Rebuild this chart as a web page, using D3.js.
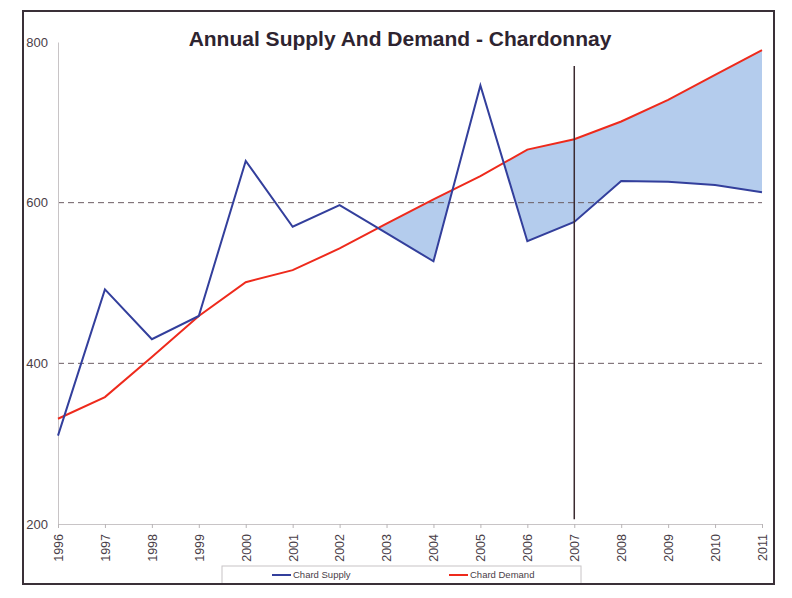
<!DOCTYPE html>
<html>
<head>
<meta charset="utf-8">
<script src="https://cdn.jsdelivr.net/npm/d3@7"></script>
<style>
  body { margin: 0; background: #fff; }
  svg { display: block; }
</style>
</head>
<body>
<div id="chart"></div>
<script>
// data
const years = [1996,1997,1998,1999,2000,2001,2002,2003,2004,2005,2006,2007,2008,2009,2010,2011];
const supply = [310,492,430,459,652,570,597,562,527,746,552,576,627,626,622,613];
const demand = [331,358,408,459,501,516,543,574,604,633,666,679,701,728,759,790];
const yTicks = [200,400,600,800];
const gridVals = [400,600];
const markerYear = 2007;
const markerSpan = [206,770];
const shadeFrom = 2002;
const seriesNames = ['Chard Supply','Chard Demand'];

const W = 792, H = 598;
const margin = {top: 42, right: 30, bottom: 74, left: 58};
const width = 762 - margin.left;
const height = 524 - margin.top;

const svg = d3.select('#chart')
  .append('svg')
    .attr('width', W)
    .attr('height', H);

const g = svg.append('g')
  .attr('transform', `translate(${margin.left},${margin.top})`);

const x = d3.scaleLinear().domain([1996, 2011]).range([0, width]);
const y = d3.scaleLinear().domain([200, 800]).range([height, 0]);

const rows = years.map((yr, i) => ({year: yr, s: supply[i], d: demand[i]}));

// shaded gap where demand is above supply
const clip = svg.append('defs').append('clipPath').attr('id', 'aboveSupply');
clip.append('path')
  .attr('d', d3.area().x(d => x(d.year)).y0(d => y(d.s)).y1(-20)(rows));

g.append('path')
  .datum(rows.filter(d => d.year >= shadeFrom))
  .attr('clip-path', 'url(#aboveSupply)')
  .attr('fill', '#b4cced')
  .attr('d', d3.area().x(d => x(d.year)).y0(d => y(d.s)).y1(d => y(d.d)));

// dashed gridlines
g.selectAll('.grid')
  .data(gridVals)
  .join('line')
    .attr('class', 'grid')
    .attr('x1', 0).attr('x2', width)
    .attr('y1', d => y(d)).attr('y2', d => y(d))
    .attr('stroke', '#6b5d63')
    .attr('stroke-width', 1)
    .attr('stroke-dasharray', '6,4');

// y axis
const yAxis = g.append('g')
  .call(d3.axisLeft(y).tickValues(yTicks).tickSize(0).tickPadding(10).tickFormat(d3.format('d')));
yAxis.select('.domain').attr('stroke', '#c8c4c6');
yAxis.selectAll('text')
  .attr('font-family', 'Liberation Sans, Arial, sans-serif')
  .attr('font-size', 13)
  .attr('fill', '#4a4048');

// x axis
const xAxis = g.append('g')
  .attr('transform', `translate(0,${height})`)
  .call(d3.axisBottom(x).tickValues(years).tickSize(4).tickSizeOuter(0).tickFormat(d3.format('d')));
xAxis.select('.domain').attr('stroke', '#c8c4c6');
xAxis.selectAll('.tick line').attr('stroke', '#b8b4b6');
xAxis.selectAll('text')
  .attr('font-family', 'Liberation Sans, Arial, sans-serif')
  .attr('font-size', 12.5)
  .attr('fill', '#4a4048')
  .attr('transform', 'rotate(-90)')
  .attr('text-anchor', 'end')
  .attr('x', -10)
  .attr('y', 0)
  .attr('dy', '0.35em');

// lines
const line = key => d3.line().x(d => x(d.year)).y(d => y(d[key]));

g.append('path')
  .datum(rows)
  .attr('fill', 'none')
  .attr('stroke', '#ee2a1c')
  .attr('stroke-width', 2)
  .attr('d', line('d'));

g.append('path')
  .datum(rows)
  .attr('fill', 'none')
  .attr('stroke', '#333f9c')
  .attr('stroke-width', 2)
  .attr('d', line('s'));

// 2007 marker
g.append('line')
  .attr('x1', x(markerYear)).attr('x2', x(markerYear))
  .attr('y1', y(markerSpan[1])).attr('y2', y(markerSpan[0]))
  .attr('stroke', '#3a2a30')
  .attr('stroke-width', 1.5);

// title
svg.append('text')
  .attr('x', 400)
  .attr('y', 46)
  .attr('text-anchor', 'middle')
  .attr('font-family', 'Liberation Sans, Arial, sans-serif')
  .attr('font-weight', 'bold')
  .attr('font-size', 21)
  .attr('fill', '#2e2430')
  .text('Annual Supply And Demand - Chardonnay');

// legend
const lg = svg.append('g');
lg.append('rect')
  .attr('x', 222).attr('y', 566)
  .attr('width', 359).attr('height', 18)
  .attr('fill', '#fff')
  .attr('stroke', '#c8c4c6');

const legColors = ['#333f9c', '#ee2a1c'];
const legX = [272, 449];
const items = lg.selectAll('.item')
  .data(seriesNames)
  .join('g')
    .attr('class', 'item')
    .attr('transform', (d, i) => `translate(${legX[i]},575)`);
items.append('line')
  .attr('x1', 0).attr('x2', 19)
  .attr('stroke', (d, i) => legColors[i])
  .attr('stroke-width', 2);
items.append('text')
  .attr('x', 21)
  .attr('dy', '0.35em')
  .attr('font-family', 'Liberation Sans, Arial, sans-serif')
  .attr('font-size', 9.5)
  .attr('fill', '#4a4048')
  .text(d => d);

// outer frame on top
svg.append('rect')
  .attr('x', 23).attr('y', 11)
  .attr('width', 751).attr('height', 573)
  .attr('fill', 'none')
  .attr('stroke', '#3a3038')
  .attr('stroke-width', 2);
</script>
</body>
</html>
